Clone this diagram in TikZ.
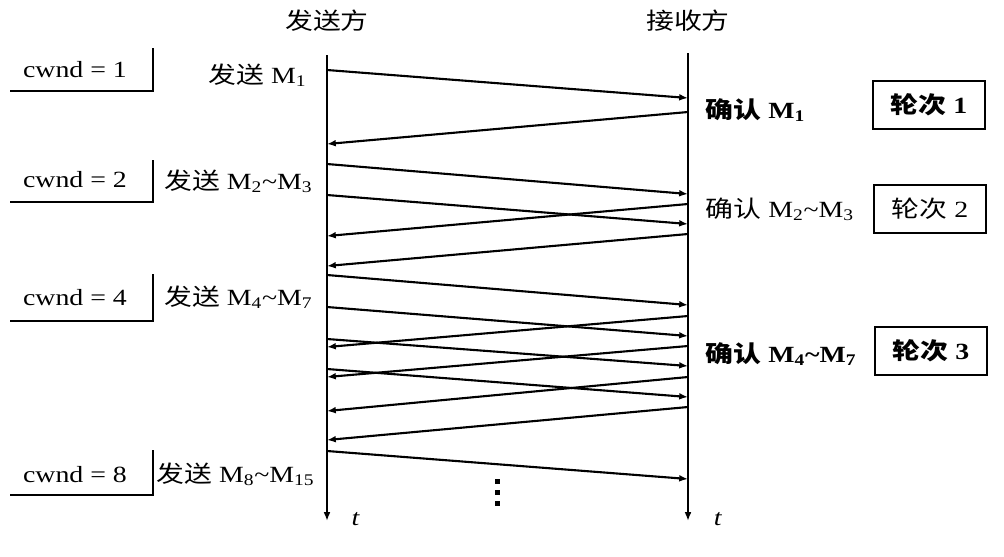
\documentclass[tikz,border=0pt]{standalone}
\usepackage{fontspec}
\setmainfont{Liberation Serif}[FakeStretch=1.2]
\newfontfamily\cjk{Noto Sans CJK SC}[FakeStretch=1.2]
\usetikzlibrary{arrows.meta}

\begin{document}
\begin{tikzpicture}[x=0.25mm,y=-0.25mm,font=\fontsize{16.5}{19}\selectfont,
  line width=1.5pt, >={Latex[length=2.2mm,width=1.7mm]},
  roundbox/.style={draw, line width=1.3pt, minimum width=28mm, minimum height=12.2mm, inner sep=0pt}]
  \useasboundingbox (0,0) rectangle (1004,556);

  % the two time lines
  \node[anchor=base] (sender) at (327,29) {\cjk 发送方};
  \node[anchor=base] (receiver) at (688,29) {\cjk 接收方};
  \coordinate (sndtop) at (327,55);
  \coordinate (sndend) at (327,521);
  \coordinate (rcvtop) at (688,53);
  \coordinate (rcvend) at (688,521);
  \draw[->] (sndtop) -- (sndend);
  \draw[->] (rcvtop) -- (rcvend);
  \node[anchor=base west] (tsnd) at (346,525) {\itshape t};
  \node[anchor=base west] (trcv) at (708,525) {\itshape t};

  % window sizes
  \foreach \n/\yt/\yc/\yb in {1/48/77/91, 2/160/187/202, 4/274/305/321, 8/450/482/495} {
    \node[anchor=base] (cw\n) at (75,\yc) {cwnd = \n};
    \draw[line width=1.1pt] (10,\yb) -- (153,\yb) -- (153,\yt);
  }

  % segments sent
  \foreach \i/\ya/\yb in {1/70/98, 2/164/194, 3/195/224, 4/275/305,
                          5/307/336, 6/339/366, 7/369/397, 8/451/479} {
    \coordinate (s\i) at (327,\ya);
    \coordinate (r\i) at (688,\yb);
    \draw[->] (s\i) -- (r\i);
  }
  % acknowledgements
  \foreach \i/\ya/\yb in {1/112/144, 2/204/236, 3/234/266, 4/316/347,
                          5/346/377, 6/377/411, 7/407/440} {
    \coordinate (ra\i) at (688,\ya);
    \coordinate (sa\i) at (327,\yb);
    \draw[->] (ra\i) -- (sa\i);
  }

  \node[anchor=base east] (snd1) at (312,83) {{\cjk 发送} M\textsubscript{1}};
  \node[anchor=base east] (snd2) at (318,189) {{\cjk 发送} M\textsubscript{2}\textasciitilde M\textsubscript{3}};
  \node[anchor=base east] (snd4) at (318,305) {{\cjk 发送} M\textsubscript{4}\textasciitilde M\textsubscript{7}};
  \node[anchor=base east] (snd8) at (320,482) {{\cjk 发送} M\textsubscript{8}\textasciitilde M\textsubscript{15}};

  \node[anchor=base west] (ack1) at (700,118) {\bfseries{\cjk 确认} M\textsubscript{1}};
  \node[anchor=base west] (ack2) at (700,217) {{\cjk 确认} M\textsubscript{2}\textasciitilde M\textsubscript{3}};
  \node[anchor=base west] (ack4) at (700,362) {\bfseries{\cjk 确认} M\textsubscript{4}\textasciitilde M\textsubscript{7}};

  \node[roundbox, font=\fontsize{16.5}{19}\selectfont\bfseries] (round1) at (929,105) {{\cjk 轮次} 1};
  \node[roundbox] (round2) at (930,209) {{\cjk 轮次} 2};
  \node[roundbox, font=\fontsize{16.5}{19}\selectfont\bfseries] (round3) at (931,351) {{\cjk 轮次} 3};

  % more rounds follow
  \foreach \y in {481,492,503}
    \fill (494.5,\y-2.5) rectangle (499.5,\y+2.5);
\end{tikzpicture}
\end{document}
